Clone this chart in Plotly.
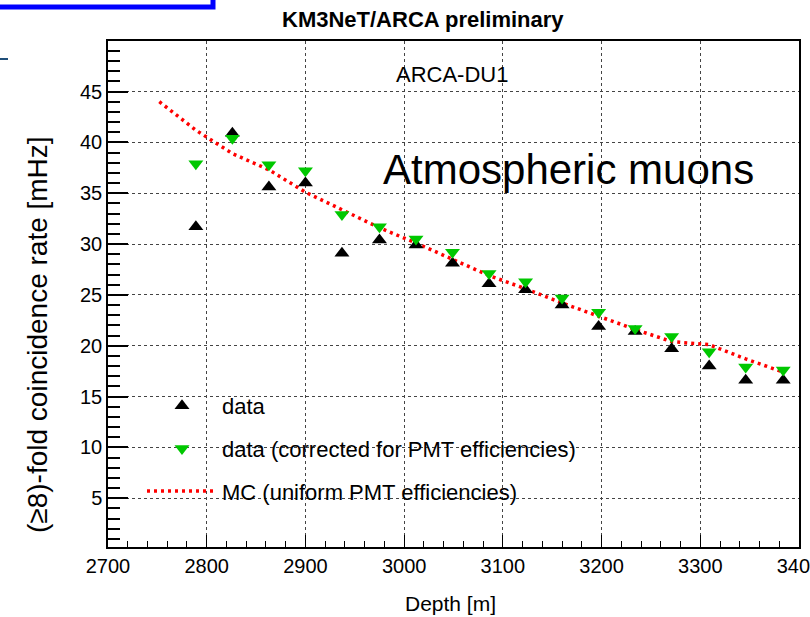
import plotly.graph_objects as go

# ---- data ----
depth = [2789, 2826, 2863, 2900, 2937, 2975, 3012, 3049, 3086, 3123, 3160, 3197, 3234, 3271, 3309, 3346, 3384]
rate_data = [31.7, 40.9, 35.6, 36.0, 29.1, 30.4, 29.9, 28.1, 26.1, 25.5, 24.0, 21.9, 21.4, 19.7, 18.0, 16.6, 16.6]
rate_corr = [37.9, 40.4, 37.8, 37.2, 32.9, 31.7, 30.5, 29.2, 27.1, 26.3, 24.7, 23.3, 21.7, 20.9, 19.4, 17.9, 17.6]
mc_depth = [2752, 2789, 2826, 2863, 2900, 2937, 2975, 3012, 3049, 3086, 3123, 3160, 3197, 3234, 3271, 3309, 3346, 3384]
mc_rate = [44.0, 41.2, 38.9, 37.3, 35.1, 33.4, 31.6, 30.1, 28.5, 26.9, 25.6, 24.2, 22.9, 21.6, 20.4, 20.1, 18.7, 17.4]

x_ticks = [2700, 2800, 2900, 3000, 3100, 3200, 3300, 3400]
y_ticks = [5, 10, 15, 20, 25, 30, 35, 40, 45]

FONT = "Liberation Sans, Arial, Helvetica, sans-serif"

fig = go.Figure()
fig.add_trace(go.Scatter(
    x=mc_depth, y=mc_rate, mode="lines", name="MC (uniform PMT efficiencies)",
    line=dict(color="#ff0000", width=3.5, dash="3px,4px"), legendgroup="c", legendrank=3))
fig.add_trace(go.Scatter(
    x=depth, y=rate_data, mode="markers", name="data",
    marker=dict(symbol="triangle-up", size=13, color="black"), legendgroup="a", legendrank=1))
fig.add_trace(go.Scatter(
    x=depth, y=rate_corr, mode="markers", name="data (corrected for PMT efficiencies)",
    marker=dict(symbol="triangle-down", size=13, color="#00c800"), legendgroup="b", legendrank=2))

L, R, T, B = 108, 11, 41, 70
W, H = 810, 617
pw, ph = W - L - R, H - T - B

def px(xp):
    return (xp - L) / pw

def py(yp):
    return (H - B - yp) / ph

axis_common = dict(
    showline=True, linecolor="black", linewidth=1.5, mirror=True,
    ticks="inside", tickcolor="black", showgrid=True,
    gridcolor="#444444", griddash="dot", gridwidth=1, zeroline=False,
    tickfont=dict(family=FONT, size=20, color="black"),
    ticklabeloverflow="allow",
)

fig.update_xaxes(range=[2700, 3400], tickvals=x_ticks, ticklen=12, tickwidth=1,
                 minor=dict(dtick=20, ticklen=6, ticks="inside", tickcolor="black", showgrid=False),
                 **axis_common)
fig.update_yaxes(range=[0.2, 49.97], tickvals=y_ticks, ticklen=20, tickwidth=1.5,
                 minor=dict(dtick=1, ticklen=12, ticks="inside", tickcolor="black", showgrid=False),
                 **axis_common)

fig.update_layout(
    width=W, height=H,
    margin=dict(l=L, r=R, t=T, b=B, autoexpand=False),
    paper_bgcolor="white", plot_bgcolor="white",
    font=dict(family=FONT, size=22, color="black"),
    showlegend=True,
    legend=dict(x=px(142), y=py(385), xanchor="left", yanchor="top",
                bgcolor="rgba(0,0,0,0)", borderwidth=0, itemwidth=70,
                tracegroupgap=11, font=dict(family=FONT, size=22, color="black")),
    annotations=[
        dict(text="<b>KM3NeT/ARCA preliminary</b>", x=px(423), y=py(19), xref="paper", yref="paper",
             showarrow=False, xanchor="center", yanchor="middle", font=dict(size=22)),
        dict(text="ARCA-DU1", x=px(452), y=py(75), xref="paper", yref="paper",
             showarrow=False, xanchor="center", yanchor="middle", font=dict(size=22)),
        dict(text="Atmospheric muons", x=px(381), y=py(170), xref="paper", yref="paper",
             showarrow=False, xanchor="left", yanchor="middle", font=dict(size=42)),
        dict(text="Depth [m]", x=px(450), y=py(603), xref="paper", yref="paper",
             showarrow=False, xanchor="center", yanchor="middle", font=dict(size=21)),
        dict(text="(\u22658)-fold coincidence rate [mHz]", x=px(37), y=py(335), xref="paper", yref="paper",
             showarrow=False, xanchor="center", yanchor="middle", textangle=-90, font=dict(size=28)),
    ],
    shapes=[
        dict(type="rect", xref="paper", yref="paper", x0=px(-10), x1=px(213), y0=py(7), y1=py(-20),
             line=dict(color="#0000ff", width=5), fillcolor="rgba(0,0,0,0)"),
        dict(type="line", xref="paper", yref="paper", x0=px(0), x1=px(8), y0=py(59), y1=py(59),
             line=dict(color="#1f4e79", width=2)),
    ],
)

fig.write_html("out.html", config={"displayModeBar": False},
               post_script="document.body.style.margin='0';")
